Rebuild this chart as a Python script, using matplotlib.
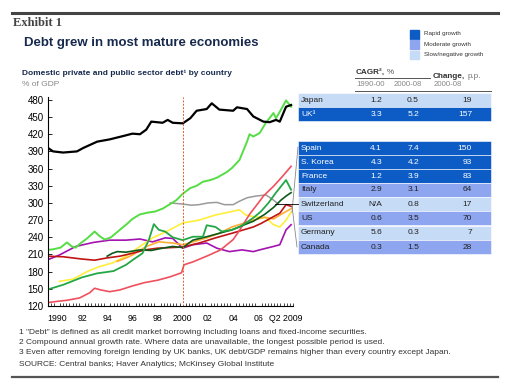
import matplotlib
matplotlib.use("Agg")
import matplotlib.pyplot as plt
from matplotlib.patches import Rectangle
from matplotlib.lines import Line2D

plt.rcParams['font.family'] = ['Liberation Sans', 'DejaVu Sans']

W, H = 510, 392

# ---------------- data (% of GDP) ----------------
japan_yr = [1989.3, 1989.7, 1990.5, 1991.6, 1992.1, 1992.6, 1993.2, 1994.2, 1995.3, 1996.0,
            1996.6, 1997.1, 1997.5, 1998.4, 1998.8, 1999.2, 2000.0, 2000.6, 2001.1, 2001.9,
            2002.3, 2002.9, 2004.0, 2004.3, 2005.1, 2005.6, 2006.4, 2006.9, 2007.4, 2007.7,
            2008.2, 2008.6]
japan = [396, 390, 388, 390, 396, 401, 407, 411, 417, 421, 420, 428, 442, 440, 445, 440,
         439, 448, 461, 464, 474, 463, 461, 467, 464, 451, 442, 441, 445, 442, 468, 471]

uk_yr = [1989.3, 1989.7, 1990.3, 1990.8, 1991.2, 1991.5, 1991.8, 1992.4, 1993.0, 1993.4,
         1993.8, 1994.3, 1995.0, 1995.5, 1996.0, 1996.6, 1997.2, 1997.8, 1998.4, 1999.0,
         1999.5, 2000.0, 2000.6, 2001.1, 2001.6, 2002.2, 2002.7, 2003.1, 2003.5, 2003.9,
         2004.5, 2005.1, 2005.3, 2005.6, 2006.1, 2006.6, 2007.2, 2007.4, 2007.8, 2008.2, 2008.6]
uk = [218, 219, 222, 231, 224, 222, 228, 238, 250, 242, 236, 240, 253, 262, 272, 280, 283,
      285, 290, 298, 305, 316, 326, 330, 337, 340, 344, 349, 354, 361, 375, 407, 420, 416,
      422, 440, 457, 448, 463, 479, 468]

spain_yr = [1989.3, 1990.0, 1990.8, 1991.8, 1992.6, 1993.0, 1993.5, 1994.2, 1995.0, 1996.0,
            1997.0, 1998.0, 1999.0, 1999.9, 2000.1, 2000.8, 2002.0, 2003.0, 2004.0, 2004.5,
            2005.3, 2006.1, 2006.4, 2007.2, 2007.9, 2008.6]
spain = [126, 128, 130, 134, 143, 151, 148, 145, 148, 155, 161, 165, 171, 178, 192, 197,
         208, 218, 236, 252, 280, 303, 312, 329, 346, 364]

korea_yr = [1989.3, 1990.5, 1992.0, 1993.2, 1994.5, 1995.5, 1996.0, 1996.8, 1997.3, 1997.7,
            1998.1, 1998.6, 1999.2, 2000.0, 2000.8, 2001.6, 2001.9, 2002.6, 2003.1, 2003.9,
            2004.5, 2005.0, 2005.6, 2006.2, 2006.8, 2007.4, 2008.2, 2008.6]
korea = [149, 157, 170, 177, 181, 192, 200, 212, 235, 263, 253, 250, 240, 235, 241, 241,
         261, 258, 250, 253, 258, 265, 274, 285, 300, 318, 340, 323]

france_yr = [1994.0, 1994.4, 1994.8, 1995.5, 1996.6, 1997.5, 1998.4, 1999.2, 2000.0, 2000.8,
             2001.9, 2002.9, 2003.9, 2004.9, 2005.6, 2006.5, 2007.2, 2007.8, 2008.2, 2008.6]
france = [207, 212, 215, 214, 218, 217, 221, 224, 222, 235, 241, 247, 253, 262, 268, 280,
          292, 305, 312, 318]

italy_yr = [1994.8, 1995.5, 1996.0, 1997.1, 1998.1, 1999.2, 2000.0, 2000.8, 2001.9, 2002.9,
            2003.9, 2004.9, 2005.6, 2006.5, 2007.2, 2007.8, 2008.6]
italy = [198, 204, 209, 224, 232, 230, 227, 232, 239, 247, 258, 265, 270, 275, 272, 280, 290]

swiss_yr = [1999.0, 2000.0, 2000.7, 2001.3, 2002.0, 2002.7, 2003.3, 2004.0, 2004.5, 2005.1,
            2005.8, 2006.6, 2007.2, 2007.6]
swiss = [300, 298, 296, 297, 300, 301, 297, 297, 303, 309, 312, 314, 305, 298]

us_yr = [1989.3, 1990.5, 1992.0, 1993.0, 1994.0, 1995.0, 1996.0, 1997.0, 1998.0, 2000.0,
         2001.3, 2002.6, 2003.9, 2005.6, 2006.2, 2007.7, 2008.2, 2008.6]
us = [207, 206, 202, 200, 204, 207, 212, 218, 221, 223, 230, 239, 247, 258, 264, 282, 297, 294]

germany_yr = [1990.2, 1991.3, 1992.4, 1993.4, 1994.4, 1995.5, 1996.6, 1997.6, 1998.7, 2000.0,
              2001.3, 2002.6, 2003.9, 2004.5, 2005.0, 2005.6, 2006.6, 2007.2, 2007.7, 2008.2,
              2008.6]
germany = [163, 167, 180, 189, 195, 207, 224, 239, 250, 265, 270, 279, 285, 288, 279, 276,
           274, 262, 258, 270, 284]

canada_yr = [1989.3, 1990.2, 1991.5, 1992.9, 1994.2, 1995.5, 1996.6, 1997.6, 1998.6, 1999.2,
             2000.0, 2000.8, 2001.9, 2002.7, 2003.7, 2004.7, 2005.6, 2006.1, 2007.2, 2007.7,
             2008.2, 2008.6]
canada = [201, 209, 224, 231, 235, 235, 237, 232, 239, 238, 221, 227, 230, 221, 215, 218,
          215, 218, 224, 227, 253, 262]

# table
countries = ['Japan', 'UK³', 'Spain', 'S. Korea', 'France', 'Italy', 'Switzerland', 'US',
             'Germany', 'Canada']
cagr_90_00 = ['1.2', '3.3', '4.1', '4.3', '1.2', '2.9', 'N/A', '0.6', '5.6', '0.3']
cagr_00_08 = ['0.5', '5.2', '7.4', '4.2', '3.9', '3.1', '0.8', '3.5', '0.3', '1.5']
change_pp = ['19', '157', '150', '93', '83', '64', '17', '70', '7', '28']
growth = ['slow', 'rapid', 'rapid', 'rapid', 'rapid', 'moderate', 'slow', 'moderate', 'slow',
          'moderate']

y_ticks = list(range(120, 481, 30))
x_tick_pos = [1990, 1992, 1994, 1996, 1998, 2000, 2002, 2004, 2006, 2008.2]
x_tick_lab = ['1990', '92', '94', '96', '98', '2000', '02', '04', '06', 'Q2 2009']

# ---------------- helpers ----------------
def fx(x):
    return x / W

def fy(y):
    return 1 - y / H

fill = {'rapid': '#0d5cc6', 'moderate': '#8ea6f0', 'slow': '#c6dbf6'}
navy = '#172a4e'

fig = plt.figure(figsize=(W / 100, H / 100), dpi=100)
renderer = fig.canvas.get_renderer()

def two_part(x, y, bold_txt, plain_txt, size, c1, c2):
    t = fig.text(fx(x), fy(y), bold_txt, weight='bold', color=c1, fontsize=size, va='center')
    bb = t.get_window_extent(renderer)
    fig.text(fx(bb.x1 + 2), fy(y), plain_txt, color=c2, fontsize=size, va='center')

# rules
fig.add_artist(Line2D([fx(12), fx(498)], [fy(13), fy(13)], color='#444444', lw=2.2))
fig.add_artist(Line2D([fx(12), fx(498)], [fy(377), fy(377)], color='#555555', lw=1.6))

fig.text(fx(13), fy(23), 'Exhibit 1', family='Liberation Serif', weight='bold',
         color='#444444', fontsize=9, va='center')
fig.text(fx(24), fy(43), 'Debt grew in most mature economies', weight='bold', color=navy,
         fontsize=9.5, va='center')

# legend
for i, (k, lab) in enumerate([('rapid', 'Rapid growth'), ('moderate', 'Moderate growth'),
                              ('slow', 'Slow/negative growth')]):
    y0 = 30 + i * 10.3
    fig.add_artist(Rectangle((fx(410), fy(y0 + 8.5)), fx(9), 8.5 / H, color=fill[k]))
    fig.text(fx(424), fy(y0 + 4), lab, fontsize=4.5, color='#333333', va='center')

fig.text(fx(22), fy(73), 'Domestic private and public sector debt¹ by country', weight='bold',
         color=navy, fontsize=6.0, va='center')
fig.text(fx(22), fy(84), '% of GDP', color='#888888', fontsize=6.0, va='center')

# ---------------- chart ----------------
ax = fig.add_axes([fx(48), fy(306), fx(293 - 48), (306 - 97) / H])
series = [
    (swiss_yr, swiss, '#9a9a9a', 1.1),
    (canada_yr, canada, '#a312b0', 1.2),
    (germany_yr, germany, '#ffee3a', 1.2),
    (italy_yr, italy, '#ffad33', 1.2),
    (us_yr, us, '#c01414', 1.2),
    (spain_yr, spain, '#f0505e', 1.2),
    (france_yr, france, '#0e5a1c', 1.2),
    (korea_yr, korea, '#23a845', 1.3),
    (uk_yr, uk, '#55dd44', 1.4),
    (japan_yr, japan, '#000000', 1.6),
]
for xs, ys, c, lw in series:
    ax.plot(xs, ys, color=c, lw=lw, solid_joinstyle='round')

ax.axvline(2000, color='#e0602a', lw=0.7, ls=(0, (2, 1.5)))
ax.set_xlim(1989.3, 2008.73)
ax.set_ylim(120, 485)
ax.set_yticks(y_ticks)
ax.set_xticks(x_tick_pos)
ax.set_xticklabels(x_tick_lab)
ax.set_xticks([1989.5 + 0.25 * i for i in range(78)], minor=True)
ax.tick_params(axis='y', direction='in', length=3, width=0.6, labelsize=7, pad=3)
ax.tick_params(axis='x', which='major', direction='in', length=0, labelsize=6.3, pad=6)
ax.tick_params(axis='x', which='minor', direction='in', length=2.5, width=0.5)
for s in ['top', 'right']:
    ax.spines[s].set_visible(False)
for s in ['left', 'bottom']:
    ax.spines[s].set_linewidth(0.8)

# ---------------- table ----------------
two_part(356, 72, 'CAGR²,', '%', 5.9, '#333333', '#555555')
two_part(433, 76, 'Change,', 'p.p.', 5.9, '#333333', '#777777')
fig.add_artist(Line2D([fx(355), fx(430)], [fy(78), fy(78)], color='#555555', lw=0.7))
fig.text(fx(356), fy(85), '1990-00', color='#888888', fontsize=5.6, va='center')
fig.text(fx(394), fy(85), '2000-08', color='#888888', fontsize=5.6, va='center')
fig.text(fx(434), fy(85), '2000-08', color='#888888', fontsize=5.6, va='center')
fig.add_artist(Line2D([fx(355), fx(491)], [fy(91), fy(91)], color='#555555', lw=0.7))

row_top = [93, 106.5, 141, 155, 168.5, 182.5, 197, 211, 225.5, 240]
row_h = 14
for i, name in enumerate(countries):
    t = row_top[i]
    g = growth[i]
    fig.add_artist(Rectangle((fx(298), fy(t + row_h)), fx(491 - 298), row_h / H,
                             facecolor=fill[g], edgecolor='white', lw=0.4))
    tc = 'white' if g == 'rapid' else '#222222'
    yc = fy(t + row_h / 2 + 0.5)
    fig.text(fx(301), yc, name, color=tc, fontsize=6, va='center')
    fig.text(fx(382), yc, cagr_90_00[i], color=tc, fontsize=6, va='center', ha='right')
    fig.text(fx(419), yc, cagr_00_08[i], color=tc, fontsize=6, va='center', ha='right')
    fig.text(fx(472), yc, change_pp[i], color=tc, fontsize=6, va='center', ha='right')

# leader lines from chart ends to the table rows
for (x0, y0), (x1, y1), c in [((292, 212), (298, 147), '#888888'),
                              ((292, 206), (297, 247), '#888888'),
                              ((275, 204), (298, 204), '#000000')]:
    fig.add_artist(Line2D([fx(x0), fx(x1)], [fy(y0), fy(y1)], color=c, lw=0.6))

# ---------------- footnotes ----------------
notes = ['1 "Debt" is defined as all credit market borrowing including loans and fixed-income securities.',
         '2 Compound annual growth rate. Where data are unavailable, the longest possible period is used.',
         '3 Even after removing foreign lending by UK banks, UK debt/GDP remains higher than every country except Japan.']
for i, n in enumerate(notes):
    fig.text(fx(19), fy(333 + 10 * i), n, fontsize=6.0, color='#333333', va='center')
fig.text(fx(19), fy(364), 'SOURCE: Central banks; Haver Analytics; McKinsey Global Institute',
         fontsize=6.0, color='#333333', va='center')

fig.savefig('out.png', dpi=100)
